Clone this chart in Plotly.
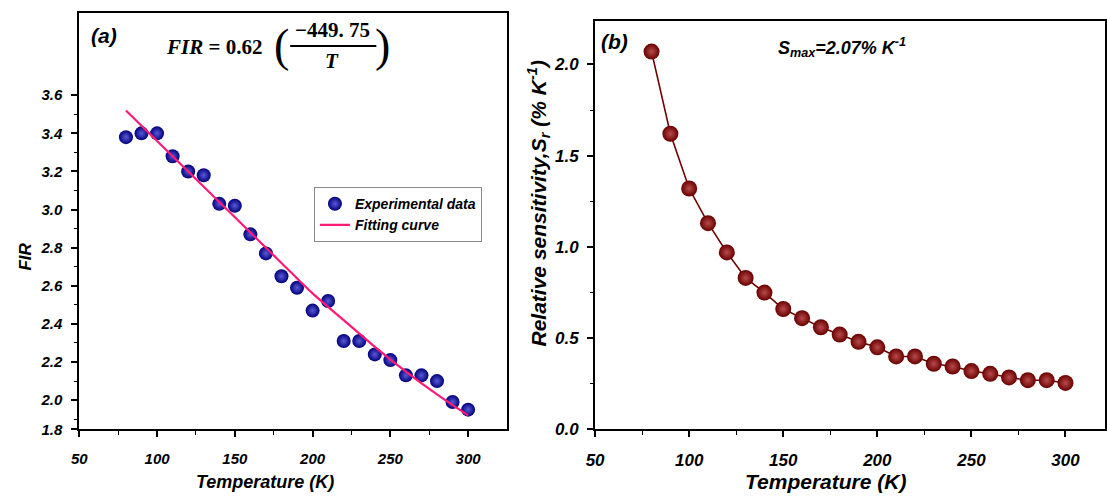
import plotly.graph_objects as go

# ---------------- data ----------------
TEMP_A = [80, 90, 100, 110, 120, 130, 140, 150, 160, 170, 180, 190,
          200, 210, 220, 230, 240, 250, 260, 270, 280, 290, 300]
FIR_EXP = [3.38, 3.40, 3.40, 3.28, 3.20, 3.18, 3.03, 3.02, 2.87, 2.77, 2.65, 2.59,
           2.47, 2.52, 2.31, 2.31, 2.24, 2.21, 2.13, 2.13, 2.10, 1.99, 1.95]
FIT_T = [80, 100, 120, 140, 160, 180, 200, 220, 240, 260, 280, 300]
FIT_VALUES = [3.52, 3.36, 3.20, 3.04, 2.88, 2.72, 2.56, 2.42, 2.28, 2.15, 2.03, 1.92]

TEMP_B = [80, 90, 100, 110, 120, 130, 140, 150, 160, 170, 180, 190,
          200, 210, 220, 230, 240, 250, 260, 270, 280, 290, 300]
SR_VALUES = [2.07, 1.62, 1.32, 1.13, 0.97, 0.83, 0.75, 0.66, 0.61, 0.56, 0.52, 0.48,
             0.45, 0.40, 0.40, 0.36, 0.345, 0.32, 0.305, 0.285, 0.27, 0.27, 0.255]

X_TICKS = [50, 100, 150, 200, 250, 300]
X_MINOR = [75, 125, 175, 225, 275]
FIR_TICKS = [2.0, 2.2, 2.4, 2.6, 2.8, 3.0, 3.2, 3.4, 3.6]
FIR_MINOR = [1.9, 2.1, 2.3, 2.5, 2.7, 2.9, 3.1, 3.3, 3.5]
SR_TICKS = [0.0, 0.5, 1.0, 1.5, 2.0]
SR_MINOR = [0.25, 0.75, 1.25, 1.75]

FIR_RANGE = [1.846, 4.033]
SR_RANGE = [0.0, 2.24]
XA_RANGE = [50, 325]
XB_RANGE = [50, 321]

W, H = 1107, 497
FONT = "Arial, Liberation Sans, sans-serif"
SERIF = "Liberation Serif, DejaVu Serif, serif"


def px(x):
    return x / W


def py(y):
    return 1 - y / H


def axis(domain, rng, tickvals, ticktext, minor_vals, size, anchor, standoff):
    return dict(
        domain=domain, range=rng, anchor=anchor,
        tickmode="array", tickvals=tickvals, ticktext=ticktext,
        ticks="outside", ticklen=6, tickwidth=1.6, tickcolor="black",
        ticklabelstandoff=standoff,
        minor=dict(tickmode="array", tickvals=minor_vals, ticks="outside",
                   ticklen=3.5, tickwidth=1.4, tickcolor="black"),
        showline=True, linewidth=2, linecolor="black", mirror=True,
        showgrid=False, zeroline=False,
        tickfont=dict(family=FONT, size=size, color="black",
                      weight="bold", style="italic"),
    )


fig = go.Figure()

fig.add_trace(go.Scatter(
    x=TEMP_A, y=FIR_EXP, mode="markers", name="Experimental data",
    marker=dict(size=14, color="#00007a",
                gradient=dict(type="radial", color="#5a5ad8"),
                line=dict(width=0)),
    xaxis="x", yaxis="y"))
fig.add_trace(go.Scatter(
    x=FIT_T, y=FIT_VALUES, mode="lines", name="Fitting curve",
    line=dict(color="#ff1a78", width=2.2, shape="spline"),
    xaxis="x", yaxis="y"))

fig.add_trace(go.Scatter(
    x=TEMP_B, y=SR_VALUES, mode="lines+markers", showlegend=False,
    line=dict(color="#700000", width=1.6),
    marker=dict(size=16, color="#680000",
                gradient=dict(type="radial", color="#b84a4a"),
                line=dict(width=0)),
    xaxis="x2", yaxis="y2"))

fir_text = ["1.8"] + [f"{v:.1f}" for v in FIR_TICKS]
fir_vals = [FIR_RANGE[0]] + FIR_TICKS

fig.update_layout(
    width=W, height=H, autosize=False,
    margin=dict(l=0, r=0, t=0, b=0),
    paper_bgcolor="white", plot_bgcolor="white",
    xaxis=axis([px(71), px(503)], XA_RANGE, X_TICKS, [str(v) for v in X_TICKS],
               X_MINOR, 15, "y", 9),
    yaxis=axis([py(438.3), py(13)], FIR_RANGE, fir_vals, fir_text,
               FIR_MINOR, 15, "x", 6),
    xaxis2=axis([px(592), 1.0], XB_RANGE, X_TICKS, [str(v) for v in X_TICKS],
                X_MINOR, 17, "y2", 8),
    yaxis2=axis([py(438.3), py(21)], SR_RANGE, SR_TICKS,
                [f"{v:.1f}" for v in SR_TICKS], SR_MINOR, 17, "x2", 5),
    legend=dict(x=px(308), y=py(191), xanchor="left", yanchor="top",
                bordercolor="#8a8a8a", borderwidth=1, bgcolor="white",
                font=dict(family=FONT, size=14, color="black",
                          weight="bold", style="italic"),
                tracegroupgap=0, itemwidth=30),
)

bi = dict(family=FONT, color="black", weight="bold", style="italic")
ann = []


def add(text, x, y, size, xanchor="center", angle=0, font=None):
    f = dict(bi) if font is None else dict(font)
    f["size"] = size
    ann.append(dict(text=text, x=px(x), y=py(y), xref="paper", yref="paper",
                    xanchor=xanchor, yanchor="middle", showarrow=False,
                    textangle=angle, font=f))


add("Temperature (K)", 259, 492, 18)
add("Temperature (K)", 825, 491, 21)
add("FIR", 17, 262, 17, angle=-90)
add("Relative sensitivity,<i>S</i><sub>r</sub> (% K<sup>-1</sup>)", 535, 208, 21, angle=-90)
add("(a)", 96, 36, 21)
add("(b)", 612, 42, 21)
add("S<sub>max</sub>=2.07% K<sup>-1</sup>", 775, 48, 18, xanchor="left")

serif_b = dict(family=SERIF, color="black", weight="bold", style="normal")
serif_bi = dict(family=SERIF, color="black", weight="bold", style="italic")
serif_n = dict(family=SERIF, color="black", weight="normal", style="normal")
add("<i>FIR</i> = 0.62", 157, 48, 21, xanchor="left", font=serif_b)
add("(", 275, 46, 46, font=serif_n)
add(")", 377, 46, 46, font=serif_n)
add("−449. 75", 327, 31, 21, font=serif_b)
add("T", 326, 62, 21, font=serif_bi)

fig.update_layout(annotations=ann)
fig.add_shape(type="line", xref="paper", yref="paper",
              x0=px(284), x1=px(371), y0=py(47), y1=py(47),
              line=dict(color="black", width=2))

fig.write_html("out.html")
